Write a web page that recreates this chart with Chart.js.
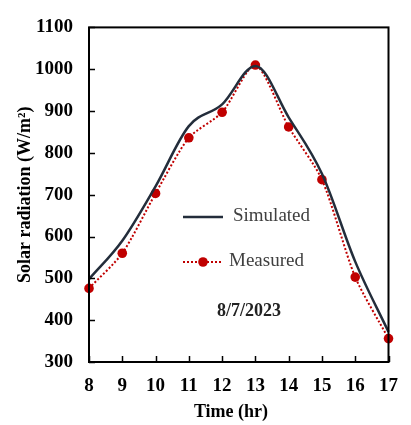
<!DOCTYPE html>
<html>
<head>
<meta charset="utf-8">
<script src="https://cdn.jsdelivr.net/npm/chart.js@4.4.1/dist/chart.umd.min.js"></script>
<style>
  html, body { margin: 0; padding: 0; background: #fff; }
  #wrap { width: 411px; height: 425px; }
</style>
</head>
<body>
<div id="wrap"><canvas id="grafico" width="411" height="425"></canvas></div>
<script>
// dados
const horas = [8, 9, 10, 11, 12, 13, 14, 15, 16, 17];
const simulado = [498, 590, 720, 864, 916, 1008, 885, 750, 540, 372];
const medido = [476, 560, 703, 836, 897, 1010, 862, 736, 503, 356];
const yMin = 300;
const yMax = 1100;
const yPasso = 100;

const fonte = 'Liberation Serif, Times New Roman, serif';
const corSimulado = '#232d3b';
const corMedido = '#c00000';

// moldura, marcas internas, legenda e textos
const pluginExtras = {
  id: 'extras',
  afterDraw(chart) {
    const { ctx, chartArea, scales } = chart;
    const x = scales.x, y = scales.y;
    ctx.save();

    // marcas de escala para dentro
    ctx.strokeStyle = '#000';
    ctx.lineWidth = 1.5;
    ctx.beginPath();
    y.ticks.forEach(t => {
      const py = Math.round(y.getPixelForValue(t.value)) + 0.5;
      ctx.moveTo(chartArea.left, py);
      ctx.lineTo(chartArea.left + 6, py);
    });
    horas.forEach((h, i) => {
      const px = Math.round(x.getPixelForValue(i)) + 0.5;
      ctx.moveTo(px, chartArea.bottom);
      ctx.lineTo(px, chartArea.bottom - 6);
    });
    ctx.stroke();

    // moldura
    ctx.lineWidth = 2;
    ctx.strokeRect(chartArea.left, chartArea.top, chartArea.right - chartArea.left, chartArea.bottom - chartArea.top);

    // legenda
    ctx.lineWidth = 2.5;
    ctx.strokeStyle = corSimulado;
    ctx.beginPath();
    ctx.moveTo(183, 217);
    ctx.lineTo(223, 217);
    ctx.stroke();

    ctx.lineWidth = 2;
    ctx.strokeStyle = corMedido;
    ctx.setLineDash([2, 2]);
    ctx.beginPath();
    ctx.moveTo(183, 262);
    ctx.lineTo(223, 262);
    ctx.stroke();
    ctx.setLineDash([]);
    ctx.fillStyle = corMedido;
    ctx.beginPath();
    ctx.arc(203, 262, 4.8, 0, Math.PI * 2);
    ctx.fill();

    ctx.fillStyle = '#404040';
    ctx.font = '19px ' + fonte;
    ctx.textAlign = 'left';
    ctx.textBaseline = 'middle';
    ctx.fillText('Simulated', 233, 216);
    ctx.fillText('Measured', 229, 261);

    ctx.fillStyle = '#222';
    ctx.font = 'bold 18px ' + fonte;
    ctx.textAlign = 'center';
    ctx.fillText('8/7/2023', 249, 311);

    // titulo do eixo x
    ctx.fillStyle = '#000';
    ctx.fillText('Time (hr)', 231, 412);

    ctx.restore();
  }
};

new Chart(document.getElementById('grafico'), {
  type: 'line',
  data: {
    labels: horas,
    datasets: [
      {
        label: 'Simulated',
        data: simulado,
        borderColor: corSimulado,
        borderWidth: 2.5,
        pointRadius: 0,
        cubicInterpolationMode: 'monotone',
        fill: false,
        clip: false
      },
      {
        label: 'Measured',
        data: medido,
        borderColor: corMedido,
        backgroundColor: corMedido,
        borderWidth: 2,
        borderDash: [2, 2],
        pointRadius: 4.8,
        pointBorderWidth: 0,
        pointBackgroundColor: corMedido,
        tension: 0.25,
        fill: false,
        clip: false
      }
    ]
  },
  options: {
    responsive: false,
    animation: false,
    devicePixelRatio: 1,
    layout: { padding: { top: 14, right: 15, left: 0, bottom: 0 } },
    plugins: {
      legend: { display: false },
      tooltip: { enabled: false }
    },
    scales: {
      x: {
        offset: false,
        grid: { display: false, drawTicks: false },
        border: { display: false },
        ticks: {
          color: '#000',
          padding: 13,
          maxRotation: 0,
          font: { family: fonte, size: 19, weight: 'bold' }
        },
        afterFit: (s) => { s.height = 63; }
      },
      y: {
        min: yMin,
        max: yMax,
        grid: { display: false, drawTicks: false },
        border: { display: false },
        ticks: {
          stepSize: yPasso,
          color: '#000',
          padding: 16,
          font: { family: fonte, size: 19, weight: 'bold' },
          callback: (v) => String(v)
        },
        title: {
          display: true,
          text: 'Solar radiation (W/m²)',
          color: '#000',
          padding: { top: 15, bottom: 0 },
          font: { family: fonte, size: 18, weight: 'bold' }
        },
        afterFit: (s) => { s.width = 89; }
      }
    }
  },
  plugins: [pluginExtras]
});
</script>
</body>
</html>
